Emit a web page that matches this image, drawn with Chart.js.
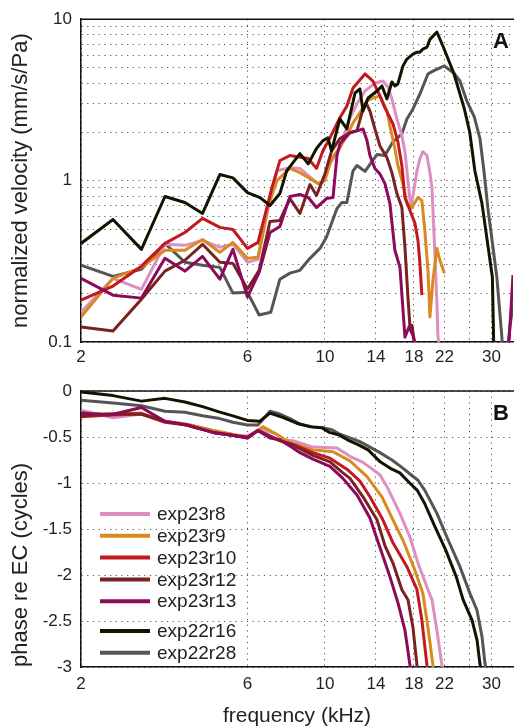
<!DOCTYPE html>
<html><head><meta charset="utf-8">
<script src="https://cdn.jsdelivr.net/npm/chart.js@4.4.1/dist/chart.umd.min.js"></script>
<style>
html,body{margin:0;padding:0;background:#fff;}
#wrap{position:relative;width:514px;height:727px;overflow:hidden;background:#fff;}
#cA{position:absolute;left:0;top:0;width:514px;height:370px;}
#cB{position:absolute;left:0;top:370px;width:514px;height:357px;}
</style></head><body>
<div id="wrap"><canvas id="cA" width="514" height="370"></canvas><canvas id="cB" width="514" height="357"></canvas></div>
<script>
// ---------- axis ticks ----------
const xTickValues = [2, 6, 10, 14, 18, 22, 26, 30];
const xTickLabels = [2, 6, 10, 14, 18, 22, 30];
const yTickValuesA = [0.1,0.2,0.3,0.4,0.5,0.6,0.7,0.8,0.9,1,2,3,4,5,6,7,8,9,10];
const yTickLabelsA = [0.1, 1, 10];
const yTickValuesB = [0,-0.5,-1,-1.5,-2,-2.5,-3];
const seriesNames = ['exp23r8','exp23r9','exp23r10','exp23r12','exp23r13','exp22r16','exp22r28'];

// ---------- panel A: normalized velocity (mm/s/Pa) vs frequency (kHz) ----------
const freqA_r8 = [2.0,2.47,2.98,3.48,3.97,4.46,5.0,5.45,6.0,6.43,6.86,7.29,7.94,8.48,9.18,9.55,9.87,10.34,11.04,11.8,12.36,13.03,13.91,14.67,15.16,15.56,16.08,16.62,16.96,17.3,17.64,18.36,18.72,19.09,19.61,20.0,20.27,20.66,20.94,21.08,21.36];
const velA_r8 = [0.153,0.248,0.212,0.403,0.397,0.426,0.386,0.403,0.312,0.325,0.653,1.15,1.20,1.19,1.03,0.958,0.972,1.27,1.6,2.45,2.99,3.59,4.02,4.14,3.80,3.21,2.41,1.90,1.51,1.0,0.67,1.15,1.37,1.51,1.43,1.12,0.905,0.354,0.174,0.11,0.085];

const freqA_r9 = [2.0,2.47,2.98,3.48,3.97,4.46,5.0,5.45,6.0,6.43,6.86,7.29,7.94,8.48,9.06,9.55,10.0,10.45,11.04,11.56,12.04,12.6,13.2,13.73,14.38,15.06,15.36,15.87,16.19,16.73,17.18,17.76,18.48,18.96,19.34,19.74,20.0,20.4,20.94,21.36,22.0];
const velA_r9 = [0.143,0.248,0.29,0.37,0.37,0.432,0.359,0.414,0.33,0.335,0.681,1.0,1.19,1.12,1.03,0.958,1.0,1.37,1.6,1.9,2.28,2.63,3.12,3.25,3.35,2.70,2.18,1.58,1.24,0.958,0.721,0.681,0.785,0.753,0.491,0.278,0.143,0.241,0.38,0.321,0.267];

const freqA_r10 = [2.0,2.47,2.98,3.48,3.97,4.46,5.0,5.45,6.0,6.43,6.82,7.05,7.43,7.94,8.59,8.96,9.46,9.87,10.34,11.04,11.56,12.04,13.03,13.73,14.38,14.86,15.67,16.19,16.62,16.96,17.53,18.12,18.48,18.72,18.96];
const velA_r10 = [0.182,0.222,0.295,0.408,0.477,0.583,0.513,0.498,0.38,0.414,0.681,0.905,1.33,1.43,1.39,1.37,1.19,1.53,1.84,2.45,2.9,3.75,4.58,4.14,3.35,2.82,2.25,1.74,1.24,0.785,0.653,0.543,0.426,0.307,0.195];

const freqA_r12 = [2.0,2.47,2.98,3.48,3.97,4.46,5.0,5.45,6.0,6.48,6.96,7.43,7.94,8.48,9.06,9.46,10.0,10.45,11.04,11.8,12.36,12.86,13.12,13.46,13.91,14.38,15.06,15.56,16.08,16.62,16.96,17.3,17.53,17.76,18.12];
const velA_r12 = [0.124,0.117,0.184,0.275,0.321,0.403,0.312,0.307,0.213,0.278,0.558,0.566,0.774,0.626,0.945,0.808,1.1,1.53,1.82,1.98,2.04,2.78,3.03,2.70,2.09,1.64,1.39,1.12,0.831,0.681,0.386,0.189,0.124,0.127,0.095];

const freqA_r13 = [2.0,2.47,2.98,3.48,3.97,4.46,5.0,5.45,6.0,6.48,6.96,7.43,7.94,8.48,8.96,9.46,10.1,10.55,10.83,11.04,11.8,12.44,12.86,13.2,13.46,13.91,14.38,14.86,15.36,15.87,16.41,16.96,17.41,17.88,18.24,26.0,33.6,34.6];
const velA_r13 = [0.248,0.195,0.187,0.33,0.275,0.339,0.245,0.375,0.19,0.27,0.477,0.52,0.797,0.82,0.785,0.681,0.774,0.785,1.43,1.69,1.98,2.04,2.09,1.77,1.43,1.19,1.10,0.958,0.721,0.37,0.29,0.107,0.124,0.11,0.09,null,0.09,0.26];

const freqA_r16 = [2.0,2.47,2.98,3.48,3.97,4.46,5.0,5.45,6.0,6.52,6.96,7.43,7.77,8.48,8.96,9.46,9.87,10.2,10.45,11.04,11.56,12.2,12.6,12.86,13.3,14.1,14.57,15.06,15.56,15.87,16.19,16.73,17.18,17.88,18.36,18.72,19.09,19.61,20.0,20.94,21.8,23.4,25.1,26.0,26.9,28.2,30.2,30.5];
const velA_r16 = [0.408,0.574,0.375,0.797,0.732,0.626,1.09,1.04,0.843,0.785,0.701,0.831,1.15,1.47,1.27,1.58,1.77,1.84,1.53,2.41,2.09,3.49,3.70,2.70,3.25,3.59,3.86,3.21,4.08,3.86,3.97,5.12,5.66,6.08,6.25,6.25,6.53,6.71,7.5,8.33,6.8,4.64,2.78,2.0,1.15,0.72,0.252,0.085];

const freqA_r28 = [2.0,2.47,2.98,3.48,3.97,4.46,5.0,5.45,6.0,6.48,7.0,7.43,7.94,8.48,9.06,9.68,10.1,10.83,11.19,11.56,12.04,12.36,13.03,14.1,14.86,15.67,16.62,17.18,17.88,18.72,19.74,20.4,22.0,23.4,24.38,25.5,26.8,27.82,28.56,29.3,31.1,32.2,32.8,33.3,33.9,34.6];
const velA_r28 = [0.299,0.255,0.282,0.408,0.312,0.299,0.290,0.201,0.203,0.147,0.153,0.245,0.267,0.278,0.330,0.380,0.445,0.672,0.732,0.732,1.15,1.24,1.14,1.45,1.43,1.74,1.95,2.41,2.78,3.44,4.58,4.77,5.13,4.64,4.14,3.12,2.48,1.82,1.15,0.681,0.252,0.103,0.08,0.085,0.124,0.17];

// ---------- panel B: phase re EC (cycles) vs frequency (kHz) ----------
const freqB_r8 = [2.0,2.47,2.98,3.48,4.02,4.78,5.6,6.0,6.52,7.19,7.68,8.1,9.24,10.83,11.8,12.77,13.46,14.38,15.06,16.41,17.53,18.48,19.61,20.27,20.94,21.64,21.79];
const phaseB_r8 = [-0.21,-0.29,-0.25,-0.33,-0.36,-0.43,-0.48,-0.49,-0.42,-0.46,-0.53,-0.54,-0.61,-0.62,-0.71,-0.77,-0.83,-0.91,-1.04,-1.33,-1.59,-1.87,-2.13,-2.27,-2.60,-2.98,-3.06];

const freqB_r9 = [2.0,2.42,2.98,3.48,4.02,4.78,5.6,6.0,6.65,7.19,7.68,8.1,9.24,10.55,11.8,13.2,14.57,15.67,16.73,18.12,19.09,19.74,20.4,20.55];
const phaseB_r9 = [-0.24,-0.25,-0.24,-0.33,-0.36,-0.43,-0.48,-0.50,-0.39,-0.46,-0.53,-0.57,-0.64,-0.66,-0.76,-0.93,-1.15,-1.40,-1.62,-1.95,-2.20,-2.57,-2.98,-3.06];

const freqB_r10 = [2.0,2.42,2.98,3.48,4.02,4.78,5.6,6.0,6.43,6.96,7.43,8.1,9.24,10.34,11.56,12.04,12.6,13.46,14.57,15.67,17.18,18.36,18.96,19.61,19.74];
const phaseB_r10 = [-0.28,-0.26,-0.25,-0.34,-0.37,-0.45,-0.49,-0.50,-0.43,-0.49,-0.54,-0.58,-0.67,-0.73,-0.85,-0.91,-0.98,-1.15,-1.38,-1.65,-1.91,-2.16,-2.49,-2.98,-3.06];

const freqB_r12 = [2.0,2.42,2.98,3.48,4.02,4.78,5.6,6.0,6.43,6.96,7.43,8.1,9.24,10.34,11.26,11.8,12.86,14.1,14.86,15.67,16.62,17.3,17.88,18.36,18.48];
const phaseB_r12 = [-0.27,-0.25,-0.25,-0.33,-0.37,-0.45,-0.49,-0.51,-0.43,-0.49,-0.54,-0.59,-0.70,-0.77,-0.89,-0.95,-1.15,-1.40,-1.68,-1.87,-2.16,-2.27,-2.57,-2.98,-3.06];

const freqB_r13 = [2.0,2.42,2.98,3.48,4.02,4.78,5.6,6.0,6.43,6.96,7.43,8.1,8.48,9.24,10.34,11.26,12.36,13.46,14.38,15.36,16.19,16.96,17.53,17.65];
const phaseB_r13 = [-0.24,-0.26,-0.18,-0.33,-0.37,-0.45,-0.49,-0.51,-0.43,-0.51,-0.53,-0.62,-0.67,-0.74,-0.82,-0.95,-1.13,-1.38,-1.70,-2.02,-2.30,-2.60,-2.98,-3.06];

const freqB_r16 = [2.0,2.47,2.98,3.48,3.97,4.46,5.0,5.45,6.0,6.5,6.96,7.6,8.3,9.1,9.8,10.3,11.0,11.6,12.4,13.3,14.4,15.4,16.4,17.5,18.4,19.3,20.7,22.2,23.8,24.9,26.4,27.3,27.8,28.1];
const phaseB_r16 = [-0.01,-0.05,-0.11,-0.08,-0.12,-0.17,-0.23,-0.27,-0.32,-0.33,-0.24,-0.29,-0.35,-0.39,-0.40,-0.45,-0.48,-0.53,-0.58,-0.64,-0.77,-0.84,-0.89,-1.0,-1.08,-1.22,-1.48,-1.73,-2.02,-2.27,-2.49,-2.71,-2.96,-3.05];

const freqB_r28 = [2.0,2.47,2.98,3.48,3.97,4.46,5.0,5.45,6.0,6.43,6.96,7.43,7.94,8.48,9.24,9.87,10.45,11.04,11.8,12.6,13.46,14.38,15.56,16.62,17.64,18.48,19.34,20.94,22.38,24.38,26.04,27.27,28.2,28.76,29.0];
const phaseB_r28 = [-0.10,-0.13,-0.16,-0.22,-0.23,-0.27,-0.30,-0.34,-0.37,-0.37,-0.22,-0.25,-0.30,-0.36,-0.39,-0.40,-0.42,-0.47,-0.51,-0.55,-0.61,-0.67,-0.75,-0.83,-0.91,-0.97,-1.08,-1.33,-1.59,-1.91,-2.20,-2.38,-2.67,-2.96,-3.05];

// ---------- styles ----------
const seriesColors = ['#dc8fc0','#d98a1f','#c1191f','#782222','#8c0a5a','#131300','#555555'];
const drawOrder = [5, 4, 3, 2, 1, 0, 6];
const FONT = '"Liberation Sans", Arial, Helvetica, sans-serif';
const TXT = '#222222';

const dataA = [[freqA_r8,velA_r8],[freqA_r9,velA_r9],[freqA_r10,velA_r10],[freqA_r12,velA_r12],[freqA_r13,velA_r13],[freqA_r16,velA_r16],[freqA_r28,velA_r28]];
const dataB = [[freqB_r8,phaseB_r8],[freqB_r9,phaseB_r9],[freqB_r10,phaseB_r10],[freqB_r12,phaseB_r12],[freqB_r13,phaseB_r13],[freqB_r16,phaseB_r16],[freqB_r28,phaseB_r28]];

function makeDatasets(data){
  return data.map((pair, i) => ({
    label: seriesNames[i],
    data: pair[0].map((f, k) => ({x: f, y: pair[1][k]})),
    borderColor: seriesColors[i],
    backgroundColor: seriesColors[i],
    borderWidth: 3,
    pointRadius: 0,
    pointHoverRadius: 0,
    tension: 0,
    fill: false,
    spanGaps: false,
    borderJoinStyle: 'round',
    order: drawOrder[i]
  }));
}

function xScaleCfg(axisHeight, labelPad, withTitle){
  return {
    type: 'logarithmic', min: 2, max: 34.6,
    afterBuildTicks: s => { s.ticks = xTickValues.map(v => ({value: v})); },
    afterFit: s => { s.height = axisHeight; },
    ticks: {
      autoSkip: false, maxRotation: 0, minRotation: 0, padding: labelPad, color: TXT,
      font: {family: FONT, size: 17},
      callback: v => xTickLabels.includes(v) ? String(v) : ''
    },
    grid: {color: '#555', lineWidth: 1, drawTicks: false},
    border: {display: true, color: '#111', width: 1.5, dash: [1.2, 4.5]},
    title: withTitle ? {display: true, text: 'frequency (kHz)', color: TXT,
      font: {family: FONT, size: 21, lineHeight: 1.0}, padding: {top: 0, bottom: 0}} : {display: false}
  };
}

const framePlugin = {
  id: 'frame',
  afterDraw(chart, args, opts){
    const {ctx, chartArea: a} = chart;
    ctx.save();
    ctx.strokeStyle = '#111';
    ctx.lineWidth = 1.5;
    ctx.beginPath();
    ctx.moveTo(a.left, a.top);
    ctx.lineTo(chart.width, a.top);
    ctx.stroke();
    ctx.fillStyle = '#111';
    ctx.font = 'bold 22px ' + FONT;
    ctx.textAlign = 'center';
    ctx.textBaseline = 'middle';
    ctx.fillText(opts.letter, a.left + 420, a.top + 23);
    ctx.restore();
  }
};

const legendPlugin = {
  id: 'legendB',
  afterDraw(chart){
    const {ctx, chartArea: a} = chart;
    ctx.save();
    ctx.font = '19px ' + FONT;
    ctx.textAlign = 'left';
    ctx.textBaseline = 'middle';
    let y = a.top + 123;
    seriesNames.forEach((name, i) => {
      if (i === 5) y += 8;
      ctx.strokeStyle = seriesColors[i];
      ctx.lineWidth = 4;
      ctx.beginPath();
      ctx.moveTo(a.left + 19, y);
      ctx.lineTo(a.left + 69, y);
      ctx.stroke();
      ctx.fillStyle = TXT;
      ctx.fillText(name, a.left + 76, y + 1);
      y += 21.8;
    });
    ctx.restore();
  }
};

Chart.defaults.font.family = FONT;

new Chart(document.getElementById('cA'), {
  type: 'line',
  data: {datasets: makeDatasets(dataA)},
  plugins: [framePlugin],
  options: {
    responsive: false, animation: false, devicePixelRatio: 1,
    layout: {padding: {top: 18, right: 1, left: 0, bottom: 0}},
    plugins: {legend: {display: false}, tooltip: {enabled: false}, frame: {letter: 'A'}},
    scales: {
      x: xScaleCfg(28, 5, false),
      y: {
        type: 'logarithmic', min: 0.1, max: 10,
        afterBuildTicks: s => { s.ticks = yTickValuesA.map(v => ({value: v})); },
        afterFit: s => { s.width = 81; },
        ticks: {autoSkip: false, padding: 9, color: TXT, font: {family: FONT, size: 17},
          callback: v => yTickLabelsA.includes(v) ? String(v) : ''},
        grid: {color: '#555', lineWidth: 1, drawTicks: false},
        border: {display: true, color: '#111', width: 1.5, dash: [1.2, 4.5]},
        title: {display: true, text: 'normalized velocity (mm/s/Pa)', color: TXT,
          font: {family: FONT, size: 22, lineHeight: 1.0}, padding: {top: 10, bottom: 0}}
      }
    }
  }
});

new Chart(document.getElementById('cB'), {
  type: 'line',
  data: {datasets: makeDatasets(dataB)},
  plugins: [framePlugin, legendPlugin],
  options: {
    responsive: false, animation: false, devicePixelRatio: 1,
    layout: {padding: {top: 21, right: 1, left: 0, bottom: 0}},
    plugins: {legend: {display: false}, tooltip: {enabled: false}, frame: {letter: 'B'}},
    scales: {
      x: xScaleCfg(60, 7, true),
      y: {
        type: 'linear', min: -3, max: 0,
        afterBuildTicks: s => { s.ticks = yTickValuesB.map(v => ({value: v})); },
        afterFit: s => { s.width = 81; },
        ticks: {autoSkip: false, padding: 9, color: TXT, font: {family: FONT, size: 17},
          callback: v => String(v)},
        grid: {color: '#555', lineWidth: 1, drawTicks: false},
        border: {display: true, color: '#111', width: 1.5, dash: [1.2, 4.5]},
        title: {display: true, align: 'start', text: 'phase re EC (cycles)', color: TXT,
          font: {family: FONT, size: 22, lineHeight: 1.0}, padding: {top: 10, bottom: 0}}
      }
    }
  }
});
</script>
</body></html>
